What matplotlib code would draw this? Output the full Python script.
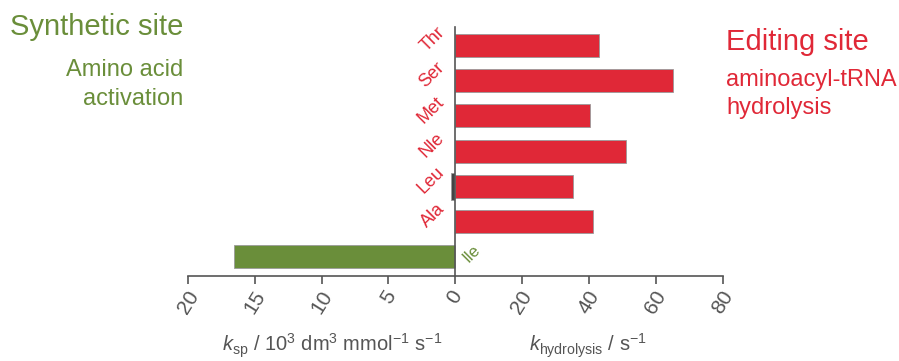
import matplotlib.pyplot as plt
from matplotlib.transforms import offset_copy

# ==========================================
# Data
# ==========================================

categories = ["Ile", "Ala", "Leu", "Nle", "Met", "Ser", "Thr"]
k_hydrolysis = [0, 41.2, 35.2, 51.1, 40.2, 65.1, 43.1]
k_sp = [16.6, 0, 0.3, 0, 0, 0, 0]

left_ticks = [20, 15, 10, 5, 0]
right_ticks = [20, 40, 60, 80]

RED = "#e02837"
GREEN = "#6a8e3a"
GRAY = "#555555"
DARK = "#444444"

plt.rcParams["font.family"] = ["Liberation Sans", "DejaVu Sans"]
plt.rcParams["mathtext.fontset"] = "custom"
plt.rcParams["mathtext.rm"] = "Liberation Sans"
plt.rcParams["mathtext.it"] = "Liberation Sans:italic"

W, H = 899, 361
fig = plt.figure(figsize=(W / 100, H / 100), dpi=100)

y0 = (H - 276) / H
h = 249 / H
ax_l = fig.add_axes([188.3 / W, y0, 266.7 / W, h])
ax_r = fig.add_axes([455 / W, y0, 267.7 / W, h])

ypos = list(range(len(categories)))

# ==========================================
# Left side: synthetic site (k_sp)
# ==========================================

left_colors = [GREEN if c == "Ile" else DARK for c in categories]
left_heights = [0.65 if c == "Ile" else 0.78 for c in categories]
ax_l.barh(ypos, k_sp, height=left_heights, color=left_colors,
          edgecolor="#9a9a9a", linewidth=0.6)
ax_l.set_xlim(20, 0)
ax_l.set_ylim(-0.545, 6.52)

# ==========================================
# Right side: editing site (k_hydrolysis)
# ==========================================

ax_r.barh(ypos, k_hydrolysis, height=0.65, color=RED,
          edgecolor="#9a9a9a", linewidth=0.6)
ax_r.set_xlim(0, 80)
ax_r.set_ylim(-0.545, 6.52)

for ax in (ax_l, ax_r):
    ax.patch.set_alpha(0)
    for s in ("top", "right"):
        ax.spines[s].set_visible(False)
    ax.spines["bottom"].set_color(GRAY)
    ax.spines["bottom"].set_linewidth(1.2)
    ax.tick_params(axis="x", direction="out", length=6, width=1.2,
                   color=GRAY, labelcolor=GRAY, labelsize=15, pad=2)

ax_l.spines["left"].set_visible(False)
ax_l.set_yticks([])
ax_r.spines["left"].set_color(GRAY)
ax_r.spines["left"].set_linewidth(1.2)
ax_r.set_yticks([])

ax_l.set_xticks(left_ticks)
ax_l.set_xticklabels([str(t) for t in left_ticks], rotation=58,
                     ha="center", va="top")
ax_r.set_xticks(right_ticks)
ax_r.set_xticklabels([str(t) for t in right_ticks], rotation=58,
                     ha="center", va="top")

# category labels, rotated, next to the vertical axis
lab_tr = offset_copy(ax_r.transData, fig=fig, x=-7, y=6, units="dots")
for yp, name in zip(ypos[1:], categories[1:]):
    ax_r.text(0, yp, name, transform=lab_tr, rotation=45,
              ha="right", va="center", color=RED, fontsize=13)
ile_tr = offset_copy(ax_r.transData, fig=fig, x=5, y=3, units="dots")
ax_r.text(0, ypos[0], categories[0], transform=ile_tr, rotation=45,
          ha="left", va="center", color=GREEN, fontsize=12)

# axis labels
fig.text(332 / W, 1 - 352 / H,
         r"$k_{\rm sp}$ / 10$^3$ dm$^3$ mmol$^{-1}$ s$^{-1}$",
         ha="center", va="baseline", color=GRAY, fontsize=14.5)
fig.text(588 / W, 1 - 352 / H, r"$k_{\rm hydrolysis}$ / s$^{-1}$",
         ha="center", va="baseline", color=GRAY, fontsize=14.5)

# site annotations
fig.text(183 / W, 1 - 35 / H, "Synthetic site", ha="right",
         va="baseline", color=GREEN, fontsize=21)
fig.text(183 / W, 1 - 76 / H, "Amino acid", ha="right",
         va="baseline", color=GREEN, fontsize=17)
fig.text(183 / W, 1 - 105 / H, "activation", ha="right",
         va="baseline", color=GREEN, fontsize=17)
fig.text(726 / W, 1 - 50 / H, "Editing site", ha="left",
         va="baseline", color=RED, fontsize=21)
fig.text(726 / W, 1 - 86 / H, "aminoacyl-tRNA", ha="left",
         va="baseline", color=RED, fontsize=17)
fig.text(726 / W, 1 - 114 / H, "hydrolysis", ha="left",
         va="baseline", color=RED, fontsize=17)

fig.savefig("out.png", dpi=100)
